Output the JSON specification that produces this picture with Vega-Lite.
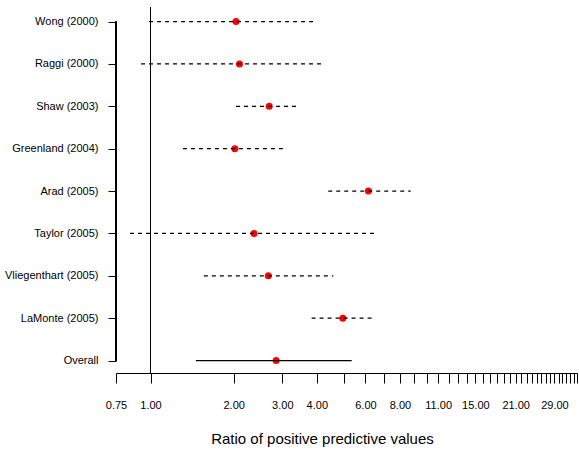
{
  "$schema": "https://vega.github.io/schema/vega-lite/v6.json",
  "autosize": "none",
  "width": 461,
  "height": 366,
  "padding": {"left": 116, "top": 7, "right": 2, "bottom": 80},
  "background": "white",
  "config": {
    "view": {"stroke": null},
    "font": "Liberation Sans",
    "axis": {"grid": false, "labelColor": "black", "titleColor": "black", "domainColor": "black", "tickColor": "black", "labelFont": "Liberation Sans", "titleFont": "Liberation Sans"}
  },
  "data": {
    "values": [
      {"study": "Wong (2000)", "kind": "study", "est": 2.04, "lo": 0.988, "hi": 4.0},
      {"study": "Raggi (2000)", "kind": "study", "est": 2.10, "lo": 0.924, "hi": 4.26},
      {"study": "Shaw (2003)", "kind": "study", "est": 2.69, "lo": 2.04, "hi": 3.45},
      {"study": "Greenland (2004)", "kind": "study", "est": 2.02, "lo": 1.31, "hi": 3.07},
      {"study": "Arad (2005)", "kind": "study", "est": 6.15, "lo": 4.40, "hi": 8.75},
      {"study": "Taylor (2005)", "kind": "study", "est": 2.37, "lo": 0.843, "hi": 6.45},
      {"study": "Vliegenthart (2005)", "kind": "study", "est": 2.67, "lo": 1.56, "hi": 4.59},
      {"study": "LaMonte (2005)", "kind": "study", "est": 4.97, "lo": 3.83, "hi": 6.50},
      {"study": "Overall", "kind": "overall", "est": 2.85, "lo": 1.46, "hi": 5.35}
    ]
  },
  "encoding": {
    "y": {
      "field": "study", "type": "nominal", "sort": null,
      "scale": {"type": "point", "padding": 0.3186, "align": 0.54, "domain": ["Wong (2000)", "Raggi (2000)", "Shaw (2003)", "Greenland (2004)", "Arad (2005)", "Taylor (2005)", "Vliegenthart (2005)", "LaMonte (2005)", "Overall"]},
      "axis": {"title": null, "domain": false, "tickSize": 8, "labelPadding": 10, "labelFontSize": 11, "labelFont": "Liberation Sans"}
    }
  },
  "layer": [
    {
      "mark": {"type": "rule", "color": "black", "strokeWidth": 1},
      "encoding": {
        "x": {"datum": 1, "type": "quantitative", "scale": {"type": "log", "domain": [0.75, 35], "nice": false, "zero": false}},
        "y": null
      }
    },
    {
      "mark": {"type": "rule", "color": "black", "strokeWidth": 1},
      "encoding": {
        "x": {"datum": 0.75, "type": "quantitative"},
        "y": {"datum": "Wong (2000)", "type": "nominal"},
        "y2": {"datum": "Overall"}
      }
    },
    {
      "mark": {"type": "point", "filled": true, "color": "red", "size": 50, "opacity": 1},
      "encoding": {
        "x": {
          "field": "est", "type": "quantitative",
          "scale": {"type": "log", "domain": [0.75, 35], "nice": false, "zero": false},
          "axis": {
            "title": "Ratio of positive predictive values",
            "titleFontSize": 15, "titleFontWeight": "normal",
            "titleX": 206, "titleY": 70, "titleBaseline": "alphabetic", "titleAlign": "center",
            "values": [0.75, 1, 2, 3, 4, 5, 6, 7, 8, 9, 10, 11, 12, 13, 14, 15, 16, 17, 18, 19, 20, 21, 22, 23, 24, 25, 26, 27, 28, 29, 30, 31, 32, 33, 34, 35],
            "labelExpr": "indexof([0.75, 1, 2, 3, 4, 6, 8, 11, 15, 21, 29], datum.value) >= 0 ? format(datum.value, '.2f') : ''",
            "labelFontSize": 11, "tickSize": 10, "labelPadding": 16, "labelOverlap": false, "labelFlush": false
          }
        }
      }
    },
    {
      "mark": {"type": "rule", "color": "black", "strokeWidth": 1.2},
      "encoding": {
        "x": {"field": "lo", "type": "quantitative"},
        "x2": {"field": "hi"},
        "strokeDash": {"field": "kind", "type": "nominal", "scale": {"domain": ["study", "overall"], "range": [[4, 4], [1, 0]]}, "legend": null}
      }
    }
  ]
}
